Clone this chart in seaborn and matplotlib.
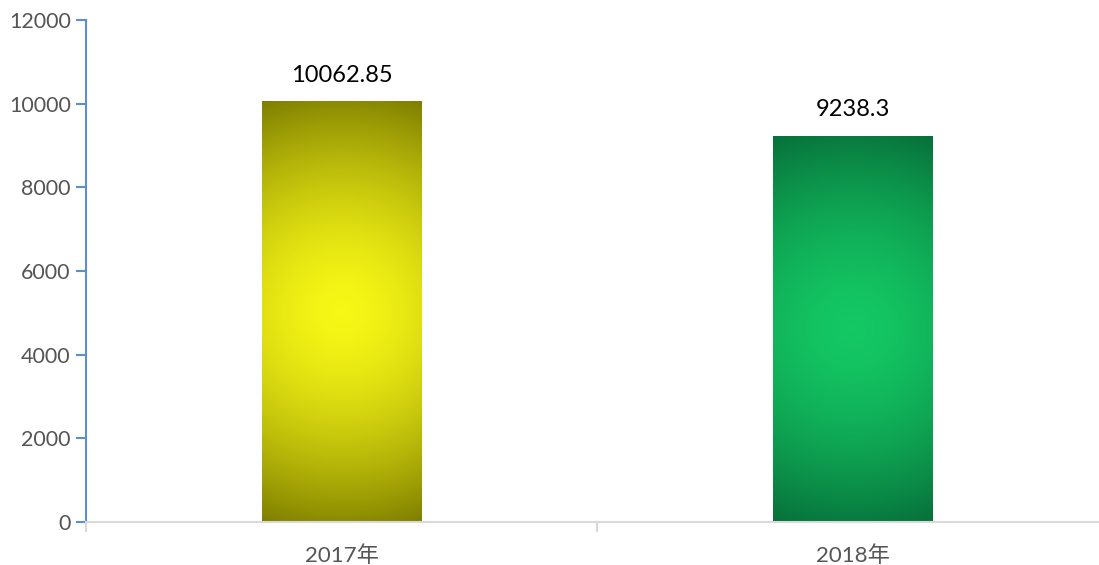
import matplotlib.pyplot as plt
import numpy as np
import pandas as pd
import seaborn as sns
from matplotlib.colors import LinearSegmentedColormap

years = ["2017年", "2018年"]
values = [10062.85, 9238.3]
value_labels = ["10062.85", "9238.3"]
y_ticks = [0, 2000, 4000, 6000, 8000, 10000, 12000]

# centre / edge colours of the radial fill
bar_centre = ["#f7f716", "#14c864"]
bar_edge = ["#7f7f00", "#07703a"]


def main() -> None:
    sns.set_theme(style="white")
    plt.rcParams["font.family"] = ["Lato", "Noto Sans CJK SC", "DejaVu Sans"]

    df = pd.DataFrame({"year": years, "value": values})

    fig = plt.figure(figsize=(10.99, 5.65), dpi=100)
    ax = fig.add_axes([86 / 1099, 43 / 565, (1108 - 86) / 1099, 502 / 565])

    sns.barplot(data=df, x="year", y="value", ax=ax, width=0.313,
                color="white", saturation=1, linewidth=0)

    # radial gradient inside each bar
    n = 200
    for patch, c0, c1 in zip(ax.patches, bar_centre, bar_edge):
        x0, y0 = patch.get_x(), patch.get_y()
        w, h = patch.get_width(), patch.get_height()
        # bar pixel size, so the gradient is circular
        px_w = w / 2.0 * 1022
        px_h = h / 12000 * 502
        gx, gy = np.meshgrid(np.linspace(-0.5, 0.5, n), np.linspace(-0.5, 0.5, n))
        dist = np.hypot(gx * px_w, gy * px_h)
        r = dist / np.hypot(px_w / 2, px_h / 2)
        cmap = LinearSegmentedColormap.from_list("g", [c0, c1])
        im = ax.imshow(r ** 1.6, cmap=cmap, vmin=0, vmax=1, aspect="auto",
                       extent=[x0, x0 + w, y0, y0 + h], origin="lower",
                       interpolation="bilinear", zorder=2)
        im.set_clip_path(patch)

    ax.bar_label(ax.containers[0], labels=value_labels, padding=11,
                 fontsize=17, color="black")

    ax.set_xlim(-0.5, 1.5)
    ax.set_ylim(0, 12000)
    ax.set_yticks(y_ticks)
    ax.set_xticks([-0.5, 0.5, 1.5], minor=True)
    ax.set_xlabel("")
    ax.set_ylabel("")

    for side in ["top", "right"]:
        ax.spines[side].set_visible(False)
    ax.spines["left"].set_color("#5b8fd0")
    ax.spines["left"].set_linewidth(1.5)
    ax.spines["bottom"].set_color("#d9d9d9")
    ax.spines["bottom"].set_linewidth(1.5)

    ax.tick_params(axis="y", which="major", left=True, length=7, width=1.5,
                   color="#5b8fd0", labelsize=15.5, labelcolor="#555555", pad=4)
    ax.tick_params(axis="x", which="major", bottom=False, labelsize=16,
                   labelcolor="#555555", pad=11)
    ax.tick_params(axis="x", which="minor", bottom=True, length=7, width=1.5,
                   color="#d9d9d9")

    fig.savefig("out.png", dpi=100)
    plt.close(fig)


if __name__ == "__main__":
    main()
